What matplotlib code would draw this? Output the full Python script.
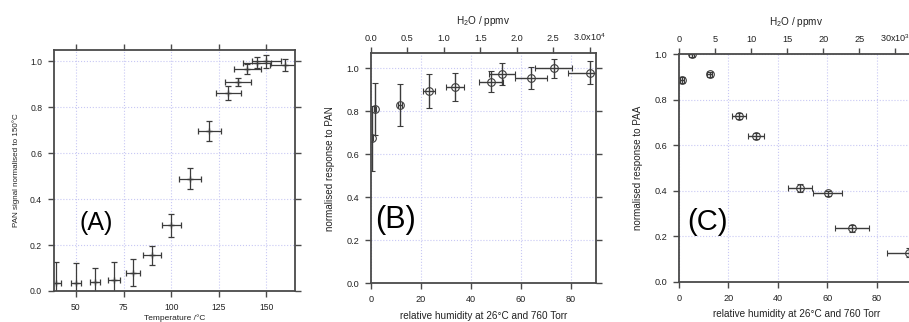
import matplotlib
matplotlib.use("Agg")
import matplotlib.pyplot as plt
import numpy as np

plt.rcParams['font.family'] = ['Liberation Sans', 'DejaVu Sans']
plt.rcParams['mathtext.fontset'] = 'custom'
plt.rcParams['mathtext.rm'] = 'Liberation Sans'
plt.rcParams['mathtext.it'] = 'Liberation Sans:italic'

# Panel A: PAN signal vs temperature
temp_A = [39.5, 50, 60, 70, 80, 90, 100, 110, 120, 130, 135, 140, 145, 150, 160]
temp_err_A = [2.5, 2.5, 2.8, 3.2, 3.8, 4.6, 5.0, 5.7, 6.0, 6.4, 7.0, 7.0, 7.3, 7.8, 8.3]
sig_A = [0.035, 0.035, 0.038, 0.05, 0.08, 0.155, 0.287, 0.49, 0.697, 0.862, 0.912, 0.968, 0.995, 1.0, 0.985]
sig_err_A = [0.09, 0.085, 0.062, 0.077, 0.058, 0.042, 0.05, 0.045, 0.045, 0.03, 0.018, 0.021, 0.023, 0.027, 0.025]

# Panel B: PAN response vs relative humidity
rh_B = [0.5, 1.6, 11.6, 23.1, 33.6, 48.0, 52.4, 63.9, 73.0, 87.5]
rh_err_B = [0.3, 0.4, 0.8, 2.5, 3.5, 4.9, 5.3, 6.5, 7.3, 8.8]
resp_B = [0.674, 0.81, 0.828, 0.894, 0.914, 0.938, 0.973, 0.955, 1.0, 0.98]
resp_err_B = [0.153, 0.12, 0.097, 0.08, 0.065, 0.05, 0.05, 0.05, 0.043, 0.053]

# Panel C: PAA response vs relative humidity
rh_C = [1.1, 5.1, 12.4, 24.3, 31.1, 49.0, 60.1, 70.1, 93.0]
rh_err_C = [0.8, 1.0, 1.0, 2.7, 3.2, 4.9, 5.9, 6.9, 9.0]
resp_C = [0.887, 1.0, 0.912, 0.729, 0.641, 0.412, 0.389, 0.235, 0.127]
resp_err_C = [0.012, 0.012, 0.012, 0.012, 0.015, 0.018, 0.012, 0.015, 0.02]

ppmv_per_rh = 343.0
top_ticks_B = [0, 5000, 10000, 15000, 20000, 25000, 30000]
top_labels_B = ['0.0', '0.5', '1.0', '1.5', '2.0', '2.5', '3.0x10$^\\mathregular{4}$']
top_ticks_C = [0, 5000, 10000, 15000, 20000, 25000, 30000]
top_labels_C = ['0', '5', '10', '15', '20', '25', '30x10$^\\mathregular{3}$']

W, H = 909, 322
fig = plt.figure(figsize=(W / 100, H / 100), dpi=100)

def pos(l, r, t, b):
    return [l / W, (H - b) / H, (r - l) / W, (b - t) / H]

spine_c = '#4a4a4a'
err_c = '#3c3c3c'
grid_c = '#c8c8f4'
txt_c = '#222222'

def style(ax, fs):
    for s in ax.spines.values():
        s.set_color(spine_c)
        s.set_linewidth(1.3)
    ax.tick_params(direction='out', length=4.5, width=1.0, color=spine_c,
                   labelsize=fs, labelcolor=txt_c, pad=4)
    ax.grid(True, color=grid_c, linestyle=':', linewidth=0.8)
    ax.set_axisbelow(True)

# ---------- Panel A ----------
axA = fig.add_axes(pos(54, 295, 50, 291))
style(axA, 6.2)
axA.errorbar(temp_A, sig_A, xerr=temp_err_A, yerr=sig_err_A, fmt='+', color=err_c,
             ecolor=err_c, elinewidth=0.9, capsize=2.2, capthick=0.9, markersize=4)
axA.set_xlim(38.5, 165)
axA.set_ylim(0, 1.05)
axA.set_xticks([50, 75, 100, 125, 150])
axA.set_yticks([0.0, 0.2, 0.4, 0.6, 0.8, 1.0])
axA.yaxis.set_major_formatter(matplotlib.ticker.FormatStrFormatter('%.1f'))
axA.tick_params(top=True, right=True, labeltop=False, labelright=False)
axA.set_xlabel('Temperature /°C', fontsize=6, labelpad=2, color=txt_c)
axA.set_ylabel('PAN signal normalised to 150°C', fontsize=5.8, labelpad=7, color=txt_c)
axA.text(0.104, 0.282, '(A)', transform=axA.transAxes, fontsize=18, va='center', ha='left')

# ---------- Panel B ----------
axB = fig.add_axes(pos(371, 596, 53.3, 283.3))
style(axB, 6.6)
axB.errorbar(rh_B, resp_B, xerr=rh_err_B, yerr=resp_err_B, fmt='o', mfc='none', mec=err_c,
             mew=0.8, color=err_c, ecolor=err_c, elinewidth=1.0, capsize=2.3, capthick=1.0,
             markersize=5.5)
axB.set_xlim(0, 90)
axB.set_ylim(0, 1.07)
axB.set_xticks([0, 20, 40, 60, 80])
axB.set_yticks([0.0, 0.2, 0.4, 0.6, 0.8, 1.0])
axB.yaxis.set_major_formatter(matplotlib.ticker.FormatStrFormatter('%.1f'))
axB.tick_params(right=True, labelright=False)
axB.set_xlabel('relative humidity at 26°C and 760 Torr', fontsize=7.2, labelpad=5, color=txt_c)
axB.set_ylabel('normalised response to PAN', fontsize=7.1, labelpad=8, color=txt_c)
secB = axB.secondary_xaxis('top', functions=(lambda x: x * ppmv_per_rh, lambda x: x / ppmv_per_rh))
secB.set_xticks(top_ticks_B)
secB.set_xticklabels(top_labels_B)
secB.tick_params(direction='out', length=4.5, width=1.0, color=spine_c, labelsize=6.6,
                 labelcolor=txt_c, pad=3)
secB.set_xlabel('H$_\\mathregular{2}$O / ppmv', fontsize=7.2, labelpad=5, color=txt_c)
secB.spines['top'].set_visible(False)
axB.text(0.018, 0.275, '(B)', transform=axB.transAxes, fontsize=22, va='center', ha='left')

# ---------- Panel C ----------
axC = fig.add_axes(pos(679, 679 + 95 * 2.473, 54.3, 281.7))
style(axC, 6.6)
axC.errorbar(rh_C, resp_C, xerr=rh_err_C, yerr=resp_err_C, fmt='o', mfc='none', mec=err_c,
             mew=0.8, color=err_c, ecolor=err_c, elinewidth=1.0, capsize=2.3, capthick=1.0,
             markersize=5.5, clip_on=True)
axC.set_xlim(0, 95)
axC.set_ylim(0, 1.0)
axC.set_xticks([0, 20, 40, 60, 80])
axC.set_yticks([0.0, 0.2, 0.4, 0.6, 0.8, 1.0])
axC.yaxis.set_major_formatter(matplotlib.ticker.FormatStrFormatter('%.1f'))
axC.set_xlabel('relative humidity at 26°C and 760 Torr', fontsize=7.2, labelpad=5, color=txt_c)
axC.set_ylabel('normalised response to PAA', fontsize=7.1, labelpad=8, color=txt_c)
secC = axC.secondary_xaxis('top', functions=(lambda x: x * ppmv_per_rh, lambda x: x / ppmv_per_rh))
secC.set_xticks(top_ticks_C)
secC.set_xticklabels(top_labels_C)
secC.tick_params(direction='out', length=4.5, width=1.0, color=spine_c, labelsize=6.6,
                 labelcolor=txt_c, pad=3)
secC.set_xlabel('H$_\\mathregular{2}$O / ppmv', fontsize=7.2, labelpad=5, color=txt_c)
secC.spines['top'].set_visible(False)
axC.text(0.034, 0.263, '(C)', transform=axC.transAxes, fontsize=21, va='center', ha='left')

fig.savefig('out.png', dpi=100)
